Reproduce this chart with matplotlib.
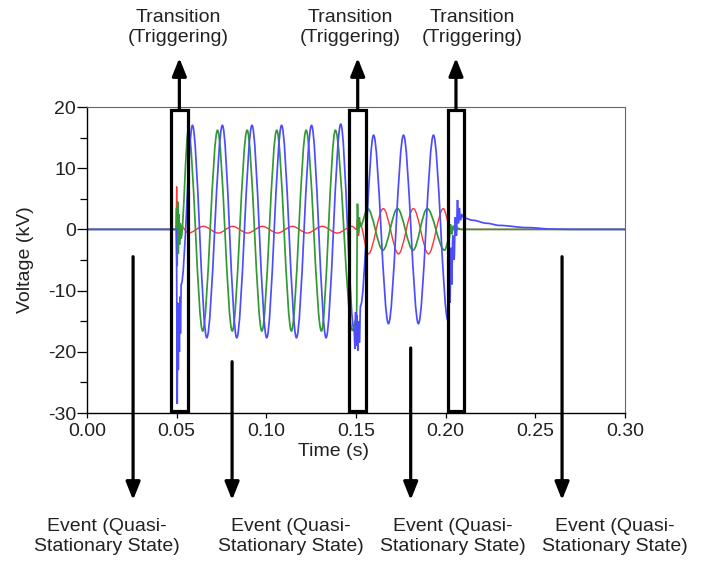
import matplotlib
matplotlib.use("Agg")
import matplotlib.pyplot as plt
from matplotlib.path import Path
from matplotlib.patches import PathPatch, Rectangle
from matplotlib.ticker import MultipleLocator

plt.rcParams['font.family'] = ['Liberation Sans', 'DejaVu Sans']
plt.rcParams['axes.unicode_minus'] = False

# ---------------- data (extrema / knots) ----------------
blue_t = [0.0, 0.0497, 0.0500, 0.0503, 0.0506, 0.0509, 0.0512, 0.0515, 0.0518, 0.0521, 0.0525,
          0.0588, 0.0668, 0.0755, 0.0835, 0.0920, 0.1002, 0.1085, 0.1168, 0.1252, 0.1333, 0.1415,
          0.1490, 0.1494, 0.1498, 0.1502, 0.1506, 0.1510, 0.1514, 0.1519, 0.1525,
          0.1598, 0.1681, 0.1765, 0.1848, 0.1932, 0.2013,
          0.2019, 0.2024, 0.2029, 0.2034, 0.2040, 0.2047, 0.2054, 0.2060, 0.2066, 0.2071,
          0.2076, 0.2082, 0.2090, 0.2100, 0.2150, 0.2230, 0.2300, 0.2450, 0.2600, 0.2700, 0.3000]
blue_v = [0.0, 0.0, -6.0, -28.5, -12.0, -23.0, -13.0, -20.0, -11.0, -17.0, -9.0,
          17.0, -17.7, 17.0, -17.7, 17.0, -17.7, 17.0, -17.7, 17.0, -17.7, 17.2,
          -16.5, -19.5, -13.5, -19.0, -14.0, -19.8, -15.0, -18.5, -12.5,
          15.4, -15.4, 15.4, -15.4, 15.4, -14.9,
          -6.0, -12.0, -3.0, -9.0, -1.0, -5.0, 2.0, -1.0, 4.8, 1.0,
          3.5, 1.5, 2.4, 1.9, 1.5, 1.0, 0.65, 0.3, 0.05, 0.0, 0.0]

green_t = [0.0, 0.0497, 0.0500, 0.0503, 0.0506, 0.0509, 0.0512, 0.0516, 0.0520, 0.0524,
           0.0565, 0.0645, 0.0728, 0.0810, 0.0893, 0.0975, 0.1058, 0.1140, 0.1222, 0.1307, 0.1385,
           0.1480, 0.1503, 0.1508, 0.1513, 0.1518, 0.1524,
           0.1565, 0.1650, 0.1731, 0.1818, 0.1897, 0.1994,
           0.2020, 0.2027, 0.2034, 0.2043, 0.2053, 0.2068, 0.2085, 0.3000]
green_v = [0.0, 0.0, 3.5, -6.0, 4.5, -4.0, 2.5, -2.5, 1.0, -1.5,
           16.2, -16.6, 16.2, -16.6, 16.2, -16.6, 16.2, -16.6, 16.2, -16.6, 16.2,
           -16.5, -14.5, 4.2, -0.5, 2.0, 0.5,
           3.4, -3.4, 3.4, -3.4, 3.4, -3.4,
           -1.5, 0.8, -0.8, 0.6, -0.3, 0.2, 0.0, 0.0]

red_t = [0.0, 0.0497, 0.0500, 0.0503, 0.0506, 0.0509, 0.0513, 0.0518, 0.0523,
         0.0565, 0.0649, 0.0732, 0.0812, 0.0895, 0.0978, 0.1062, 0.1145, 0.1228, 0.1312, 0.1395, 0.1478,
         0.1503, 0.1508, 0.1514, 0.1520,
         0.1569, 0.1652, 0.1737, 0.1820, 0.1904, 0.1987,
         0.2025, 0.2032, 0.2040, 0.2050, 0.3000]
red_v = [0.0, 0.0, 7.0, 0.5, 4.5, -0.5, 1.5, -0.8, 0.6,
         -0.6, 0.5, -0.6, 0.5, -0.6, 0.5, -0.6, 0.5, -0.6, 0.5, -0.6, 0.5,
         0.0, 1.5, -1.0, 1.2,
         -4.0, 3.4, -4.0, 3.4, -4.0, 3.4,
         0.4, -0.4, 0.3, 0.0, 0.0]

# transition windows (start, end) in seconds
box_t0 = [0.0469, 0.1463, 0.2011]
box_t1 = [0.0561, 0.1556, 0.2104]

x_ticks = [0.00, 0.05, 0.10, 0.15, 0.20, 0.25, 0.30]
x_ticklabels = ['0.00', '0.05', '0.10', '0.15', '0.20', '0.25', '0.30']
y_ticks = [-30, -20, -10, 0, 10, 20]

top_label = "Transition\n(Triggering)"
bottom_label = "Event (Quasi-\nStationary State)"

# ---------------- layout ----------------
W, H = 707, 561
fig = plt.figure(figsize=(W / 100, H / 100), dpi=100)
ax = fig.add_axes([87 / W, 1 - 413 / H, 538 / W, 306 / H])
ax.set_xlim(0, 0.30)
ax.set_ylim(-30, 20)


def smooth_path(ts, vs):
    verts = [(ts[0], vs[0])]
    codes = [Path.MOVETO]
    for i in range(1, len(ts)):
        t0, v0, t1, v1 = ts[i - 1], vs[i - 1], ts[i], vs[i]
        d = t1 - t0
        verts += [(t0 + d / 3, v0), (t1 - d / 3, v1), (t1, v1)]
        codes += [Path.CURVE4] * 3
    return Path(verts, codes)


for ts, vs, col, lw in [(red_t, red_v, '#ff3333', 1.0),
                        (green_t, green_v, '#339933', 1.25),
                        (blue_t, blue_v, '#4d4dff', 1.25)]:
    ax.add_patch(PathPatch(smooth_path(ts, vs), facecolor='none', edgecolor=col, lw=lw))

# transition boxes
for a, b in zip(box_t0, box_t1):
    ax.add_patch(Rectangle((a, -29.7), b - a, 49.2, fill=False, ec='black', lw=2.3,
                           zorder=5, clip_on=False))

# axes styling
ax.set_xticks(x_ticks)
ax.set_xticklabels(x_ticklabels)
ax.set_yticks(y_ticks)
ax.yaxis.set_minor_locator(MultipleLocator(5))
ax.tick_params(axis='both', which='major', labelsize=14, colors='black', labelcolor='#222222',
               direction='out')
ax.tick_params(axis='y', which='major', length=7, width=0.9, pad=1)
ax.tick_params(axis='y', which='minor', length=5, width=0.9)
ax.tick_params(axis='x', which='major', length=3.5, width=0.9, pad=4)
for s in ['left', 'bottom']:
    ax.spines[s].set_color('black')
    ax.spines[s].set_linewidth(1.0)
for s in ['top', 'right']:
    ax.spines[s].set_color('#666666')
    ax.spines[s].set_linewidth(0.8)

# axis labels
fig.text(333 / W, 1 - 451 / H, 'Time (s)', ha='center', va='center', fontsize=14, color='#222222')
fig.text(25 / W, 1 - 260 / H, 'Voltage (kV)', ha='center', va='center', rotation=90,
         fontsize=14, color='#222222')

arrow_style = '-|>,head_length=0.4,head_width=0.16'
# top arrows (from box top upward) + labels
top_text_x = [178, 350, 472]
for a, b, tx in zip(box_t0, box_t1, top_text_x):
    xc = (a + b) / 2
    ax.annotate('', xy=(xc, H - 58), xytext=(xc, H - 110),
                xycoords=('data', 'figure pixels'), textcoords=('data', 'figure pixels'),
                arrowprops=dict(arrowstyle=arrow_style, color='black', lw=2.3,
                                mutation_scale=27, shrinkA=0, shrinkB=0),
                annotation_clip=False)
    fig.text(tx / W, 1 - 27.5 / H, top_label, ha='center', va='center', fontsize=14,
             linespacing=1.25, color='#222222')

# bottom arrows + labels
bot_arrow_x = [0.0257, 0.0809, 0.1805, 0.2649]
bot_arrow_y0 = [256.7, 361.7, 348, 256.7]
bot_text_x = [107, 291, 453, 615]
for xa, y0, tx in zip(bot_arrow_x, bot_arrow_y0, bot_text_x):
    ax.annotate('', xy=(xa, H - 500), xytext=(xa, H - y0),
                xycoords=('data', 'figure pixels'), textcoords=('data', 'figure pixels'),
                arrowprops=dict(arrowstyle=arrow_style, color='black', lw=2.3,
                                mutation_scale=27, shrinkA=0, shrinkB=0),
                annotation_clip=False)
    fig.text(tx / W, 1 - 536.5 / H, bottom_label, ha='center', va='center', fontsize=14,
             linespacing=1.2, color='#222222')

fig.savefig('out.png', dpi=100)
